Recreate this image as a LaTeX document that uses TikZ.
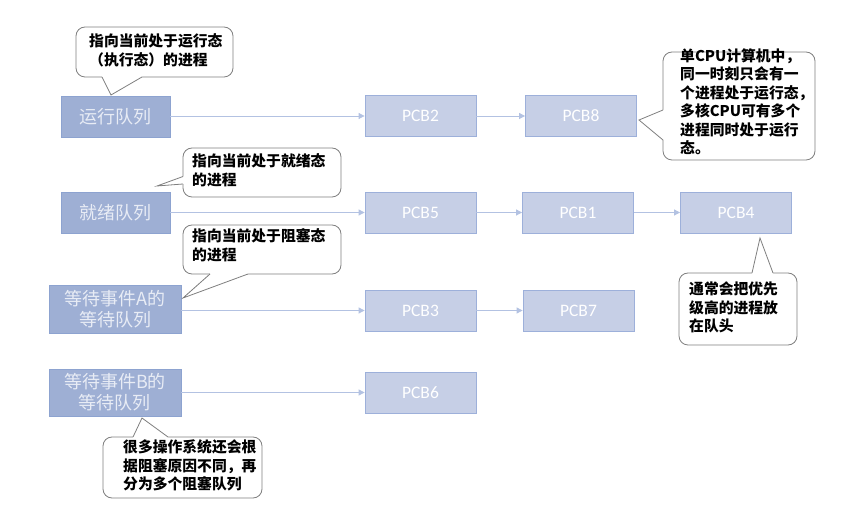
\documentclass[tikz,border=0pt]{standalone}
\usepackage{fontspec}
\setmainfont{Carlito}
\newfontfamily\cjk{Noto Sans CJK SC}
\usetikzlibrary{arrows.meta,calc}

\definecolor{qfill}{HTML}{9EAFD4}
\definecolor{qborder}{HTML}{8DA3D0}
\definecolor{qtext}{HTML}{E8ECF5}
\definecolor{pfill}{HTML}{C6CFE6}
\definecolor{pborder}{HTML}{9DB0DA}
\definecolor{lcolor}{HTML}{B3C2E2}
\definecolor{ngray}{HTML}{7F7F7F}

% pointer of a callout: tip, two base points on the box edge, inward shift
\newcommand\calloutptr[4]{%
  \fill[white] (#1) -- (#2) -- ($(#2)+#4$) -- ($(#3)+#4$) -- (#3) -- cycle;
  \draw[ngray, line width=0.8pt] (#2) -- (#1) -- (#3);}

% left-aligned stack of lines for callout texts
\newcommand\notelines[1]{\begin{tabular}{@{}l@{}}#1\end{tabular}}

\begin{document}
\begin{tikzpicture}[x=1pt,y=-1pt,
  queue/.style={draw=qborder, fill=qfill, line width=0.8pt, text=qtext,
    font=\cjk\fontsize{18}{21}\selectfont, align=center, inner sep=0pt},
  pcb/.style={draw=pborder, fill=pfill, line width=0.8pt, text=white,
    font=\fontsize{17.5}{20}\selectfont, minimum width=111pt,
    minimum height=41pt, inner sep=0pt},
  link/.style={draw=lcolor, line width=0.8pt,
    -{Triangle[length=6pt,width=6pt]}},
  note/.style={draw=ngray, fill=white, line width=0.8pt, rounded corners=9pt,
    inner sep=0pt},
  notetext/.style={anchor=west, inner sep=0pt, text=black,
    font=\cjk\bfseries\fontsize{14.8}{18.5}\selectfont},
]
\useasboundingbox (0,0) rectangle (852,518);

% queue heads
\node[queue, minimum width=109pt, minimum height=41pt] (rq) at (115.5,116.5) {运行队列};
\node[queue, minimum width=109pt, minimum height=41pt] (jq) at (115.5,212.5) {就绪队列};
\node[queue, minimum width=132pt, minimum height=48pt] (aq) at (115,309) {等待事件A的\\等待队列};
\node[queue, minimum width=132pt, minimum height=47pt] (bq) at (115,392.5) {等待事件B的\\等待队列};

% process control blocks
\node[pcb] (p2) at (420.5,116) {PCB2};
\node[pcb] (p8) at (581,116) {PCB8};
\node[pcb] (p5) at (420.5,212.5) {PCB5};
\node[pcb] (p1) at (578,212.5) {PCB1};
\node[pcb] (p4) at (736,212.5) {PCB4};
\node[pcb] (p3) at (420.5,310.5) {PCB3};
\node[pcb] (p7) at (578.5,310.5) {PCB7};
\node[pcb] (p6) at (420.5,392.5) {PCB6};

% queue links
\draw[link] (rq.east |- p2.west) -- (p2.west);
\draw[link] (p2) -- (p8);
\draw[link] (jq.east |- p5.west) -- (p5.west);
\draw[link] (p5) -- (p1);
\draw[link] (p1) -- (p4);
\draw[link] (aq.east |- p3.west) -- (p3.west);
\draw[link] (p3) -- (p7);
\draw[link] (bq.east |- p6.west) -- (p6.west);

% callout boxes
\node[note, minimum width=157pt, minimum height=50pt] (c1) at (154.5,52) {};
\node[note, minimum width=152pt, minimum height=108pt] (c2) at (739,106) {};
\node[note, minimum width=158pt, minimum height=49pt] (c3) at (262,172.5) {};
\node[note, minimum width=158pt, minimum height=49pt] (c4) at (262,249.5) {};
\node[note, minimum width=118pt, minimum height=72pt] (c5) at (738,309) {};
\node[note, minimum width=159pt, minimum height=61pt] (c6) at (182.5,467.5) {};

% callout pointers
\coordinate (t1) at (111,95);
\coordinate (t2) at (639,120);
\coordinate (t3) at (157,186);
\coordinate (t4) at (183,298);
\coordinate (t5) at (760,238);
\coordinate (t6) at (142,418);
\calloutptr{t1}{102,77}{142,77}{(0,-2)}
\calloutptr{t2}{663,110}{663,140}{(2,0)}
\calloutptr{t3}{183,176.5}{183,184}{(2,0)}
\calloutptr{t4}{210,274}{248,274}{(0,-2)}
\calloutptr{t5}{752,273}{773,273}{(0,2)}
\calloutptr{t6}{133,437}{168,437}{(0,2)}

% callout texts
\node[notetext] (c1t) at (89,52.5) {\notelines{指向当前处于运行态\\（执行态）的进程}};
\node[notetext] (c2t) at (680,104) {\notelines{单CPU计算机中，\\同一时刻只会有一\\个进程处于运行态，\\多核CPU可有多个\\进程同时处于运行\\态。}};
\node[notetext] (c3t) at (192,172.5) {\notelines{指向当前处于就绪态\\的进程}};
\node[notetext] (c4t) at (192,247.5) {\notelines{指向当前处于阻塞态\\的进程}};
\node[notetext] (c5t) at (689,309.5) {\notelines{通常会把优先\\级高的进程放\\在队头}};
\node[notetext] (c6t) at (123,467.5) {\notelines{很多操作系统还会根\\据阻塞原因不同，再\\分为多个阻塞队列}};
\end{tikzpicture}
\end{document}
